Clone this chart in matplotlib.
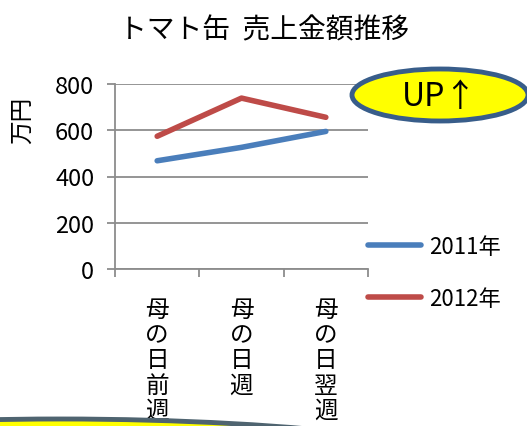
import matplotlib
matplotlib.use("Agg")
import matplotlib.pyplot as plt
from matplotlib.patches import Ellipse
from matplotlib.transforms import IdentityTransform

plt.rcParams['font.family'] = ['Noto Sans CJK JP', 'DejaVu Sans']

# データ
categories = ["母の日前週", "母の日週", "母の日翌週"]
sales_2011 = [468, 526, 595]
sales_2012 = [574, 739, 656]
series_names = ["2011年", "2012年"]
yticks = [0, 200, 400, 600, 800]

W, H = 527, 427
fig = plt.figure(figsize=(W / 100, H / 100), dpi=100)
ax = fig.add_axes([115 / W, 1 - 270 / H, (368 - 115) / W, (270 - 85) / H])

x = range(len(categories))
ax.plot(x, sales_2011, color="#4A7EBB", lw=4, solid_capstyle="round", label=series_names[0])
ax.plot(x, sales_2012, color="#BE4B48", lw=4, solid_capstyle="round", label=series_names[1])

ax.set_xlim(-0.5, len(categories) - 0.5)
ax.set_ylim(0, 800)
ax.set_yticks(yticks)
ax.set_yticklabels([str(v) for v in yticks], fontsize=17)
ax.yaxis.grid(True, color="#8C8C8C", lw=1.3)
ax.set_axisbelow(True)

# x軸: 縦書きラベル
ax.set_xticks([-0.5, 0.5, 1.5, 2.5], minor=False)
ax.set_xticklabels([])
ax.set_xticks(list(x), minor=True)
ax.set_xticklabels(["\n".join(c) for c in categories], minor=True,
                   fontsize=17, linespacing=1.12, va="top")
ax.tick_params(axis="x", which="minor", length=0, pad=21)
ax.tick_params(axis="x", which="major", length=6, color="#8C8C8C", width=1.3)
ax.tick_params(axis="y", length=6, color="#8C8C8C", width=1.3, pad=9)

for s in ["top", "right"]:
    ax.spines[s].set_visible(False)
for s in ["left", "bottom"]:
    ax.spines[s].set_color("#8C8C8C")
    ax.spines[s].set_linewidth(1.3)

fig.text(22 / W, 1 - 120 / H, "万円", fontsize=17, rotation=90,
         ha="center", va="center")
fig.text(264 / W, 1 - 30 / H, "トマト缶  売上金額推移", fontsize=20,
         ha="center", va="center")

fig.legend(loc="upper left", bbox_to_anchor=(368 / W, 1 - 236 / H), frameon=False,
           borderpad=0, borderaxespad=0, fontsize=16, handlelength=2.4,
           labelspacing=1.3, handletextpad=0.35)

# 吹き出し
up = Ellipse((440, H - 96), 176, 52, facecolor="#FFFF00", edgecolor="#385D8A",
             lw=3.5, transform=IdentityTransform())
fig.patches.append(up)
fig.text(440 / W, 1 - 97 / H, "UP↑", fontsize=23, ha="center", va="center")

bottom = Ellipse((60, H - 480), 900, 120, facecolor="#FFFF00", edgecolor="#4F6470",
                 lw=3.5, transform=IdentityTransform())
fig.patches.append(bottom)

fig.savefig("out.png", dpi=100)
